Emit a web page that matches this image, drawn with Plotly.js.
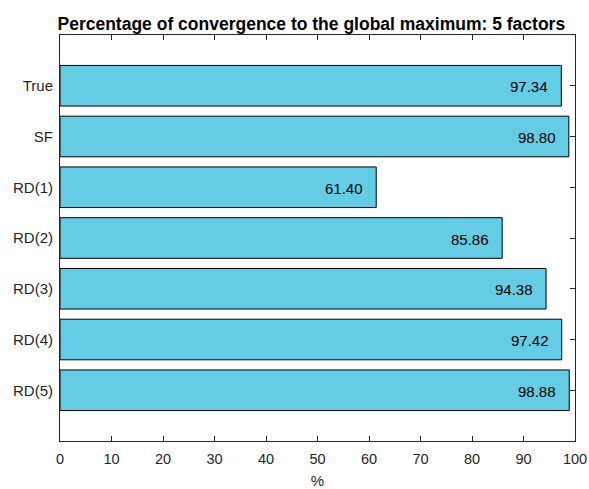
<!DOCTYPE html>
<html>
<head>
<meta charset="utf-8">
<script src="https://cdn.plot.ly/plotly-3.0.1.min.js"></script>
<style>html,body{margin:0;padding:0;background:#fff;}#chart{width:589px;height:489px;}</style>
</head>
<body>
<div id="chart"></div>
<script>
const categories = ["RD(5)", "RD(4)", "RD(3)", "RD(2)", "RD(1)", "SF", "True"];
const values = [98.88, 97.42, 94.38, 85.86, 61.40, 98.80, 97.34];
const xTicks = [0, 10, 20, 30, 40, 50, 60, 70, 80, 90, 100];

const positions = categories.map((_, i) => i + 1);
const font = "Liberation Sans, Arial, Helvetica, sans-serif";
const axisColor = "#262626";

const trace = {
  type: "bar",
  orientation: "h",
  x: values,
  y: positions,
  width: 0.8,
  marker: {color: "rgb(100,204,228)", line: {color: "#000", width: 1}},
  hoverinfo: "none"
};

const annotations = values.map((v, i) => ({
  x: v, y: positions[i], xref: "x", yref: "y",
  text: v.toFixed(2), showarrow: false,
  xanchor: "right", xshift: -11, yshift: -1,
  font: {family: font, size: 15, color: "#000"}
}));

const layout = {
  width: 589, height: 489,
  margin: {l: 60, r: 14, t: 35, b: 48},
  paper_bgcolor: "#fff", plot_bgcolor: "#fff",
  showlegend: false,
  title: {text: "<b>Percentage of convergence to the global maximum: 5 factors</b>",
          font: {family: font, size: 17.5, color: "#000"},
          x: 0.488, xref: "paper", xanchor: "center", y: 1, yref: "paper", yanchor: "bottom", pad: {b: 5}},
  xaxis: {
    range: [0, 100], tickvals: xTicks, ticktext: xTicks.map(String),
    ticks: "inside", ticklen: 5, tickcolor: axisColor, tickwidth: 1,
    showline: true, linecolor: axisColor, linewidth: 1, mirror: "ticks",
    showgrid: false, zeroline: false,
    tickfont: {family: font, size: 14.5, color: axisColor},
    ticklabelstandoff: 5,
    title: {text: "%", font: {family: font, size: 15, color: axisColor}, standoff: 10},
    layer: "below traces", fixedrange: true
  },
  yaxis: {
    range: [0, 8], tickvals: positions, ticktext: categories,
    ticks: "inside", ticklen: 5, tickcolor: axisColor, tickwidth: 1,
    showline: true, linecolor: axisColor, linewidth: 1, mirror: "ticks",
    showgrid: false, zeroline: false,
    tickfont: {family: font, size: 15, color: axisColor},
    ticklabelstandoff: 3,
    layer: "below traces", fixedrange: true
  },
  annotations: annotations
};

Plotly.newPlot("chart", [trace], layout, {displayModeBar: false, staticPlot: true});
</script>
</body>
</html>
